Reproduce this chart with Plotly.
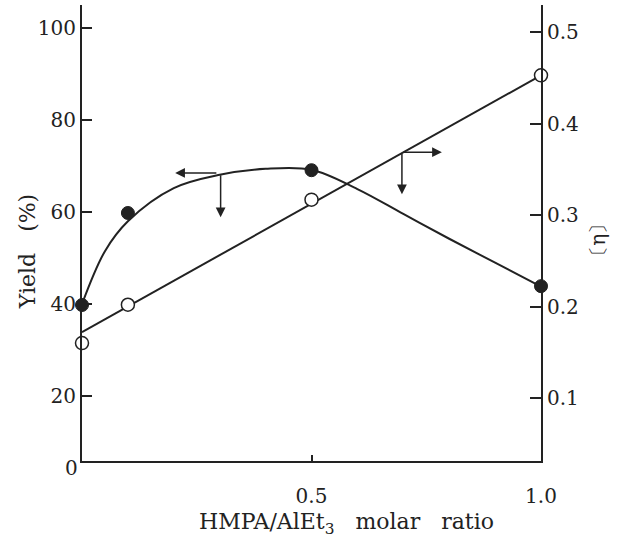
import plotly.graph_objects as go

# ---- data ----
ratio = [0.0, 0.1, 0.5, 1.0]
yield_pct = [39.8, 59.8, 69.1, 43.9]          # filled circles, left axis
eta = [0.160, 0.202, 0.317, 0.453]            # open circles, right axis

# smooth yield curve drawn through the points
curve_x = [0.0, 0.05, 0.1, 0.2, 0.3, 0.4, 0.5, 0.6, 0.7, 0.8, 0.9, 1.0]
curve_y = [40.0, 51.5, 58.0, 65.2, 68.1, 69.4, 69.2, 65.0, 59.6, 54.2, 49.0, 43.8]

# straight line for [eta]
eta_line_x = [0.0, 1.0]
eta_line_y = [0.172, 0.453]

yticks_left = [20, 40, 60, 80, 100]
yticks_right = [0.1, 0.2, 0.3, 0.4, 0.5]
xticks = [0.5, 1.0]
xtick_text = ["0.5", "1.0"]

FONT = "DejaVu Serif"
INK = "#222222"

fig = go.Figure()
fig.add_trace(go.Scatter(x=curve_x, y=curve_y, mode="lines",
                         line=dict(color=INK, width=2, shape="spline", smoothing=1.0),
                         hoverinfo="skip", cliponaxis=False))
fig.add_trace(go.Scatter(x=eta_line_x, y=eta_line_y, mode="lines", line=dict(color=INK, width=2),
                         yaxis="y2", hoverinfo="skip", cliponaxis=False))
fig.add_trace(go.Scatter(x=ratio, y=yield_pct, mode="markers",
                         marker=dict(size=13, color=INK, line=dict(color=INK, width=1)), cliponaxis=False))
fig.add_trace(go.Scatter(x=ratio, y=eta, mode="markers", yaxis="y2",
                         marker=dict(size=13, color="white", line=dict(color=INK, width=1.5)), cliponaxis=False))

axis_common = dict(showline=True, linecolor=INK, linewidth=2, ticks="inside", tickcolor=INK,
                   tickwidth=1.5, showgrid=False, zeroline=False,
                   tickfont=dict(family=FONT, size=20, color=INK))

fig.update_layout(
    width=628, height=542,
    margin=dict(l=82, r=87, t=5, b=81),
    paper_bgcolor="white", plot_bgcolor="white",
    showlegend=False,
    xaxis=dict(range=[0, 1.0], tickvals=xticks, ticktext=xtick_text, ticklen=6,
               ticklabelstandoff=16, **axis_common),
    yaxis=dict(range=[5.9, 105], tickvals=yticks_left, ticklen=10, ticklabelstandoff=0, **axis_common),
    yaxis2=dict(range=[0.031, 0.53], tickvals=yticks_right, ticklen=11, overlaying="y", side="right",
                anchor="x", ticklabelstandoff=0, **axis_common),
)

# arrows indicating which axis each curve belongs to
arrows = [
    # (head_x, head_y, tail_x, tail_y, y-axis)
    (0.203, 68.5, 0.296, 68.5, "y"),
    (0.302, 58.9, 0.302, 68.3, "y"),
    (0.784, 0.369, 0.697, 0.369, "y2"),
    (0.697, 0.323, 0.697, 0.369, "y2"),
]
for hx, hy, tx, ty, yr in arrows:
    fig.add_annotation(x=hx, y=hy, ax=tx, ay=ty, xref="x", yref=yr, axref="x", ayref=yr,
                       text="", showarrow=True, arrowhead=2, arrowsize=1.3, arrowwidth=1.5,
                       arrowcolor=INK)

fig.add_annotation(text="0", x=0, y=0, xref="x", yref="paper", xanchor="right", yanchor="middle",
                   xshift=-2, yshift=-7, showarrow=False, font=dict(family=FONT, size=20, color=INK))
fig.add_annotation(text="HMPA/AlEt<sub>3</sub>   molar   ratio", x=0.577, y=-0.136, xref="paper", yref="paper",
                   xanchor="center", yanchor="middle", showarrow=False,
                   font=dict(family=FONT, size=22, color=INK))
fig.add_annotation(text="Yield   (%)", x=-0.12, y=0.46, xref="paper", yref="paper", textangle=-90,
                   xanchor="center", yanchor="middle", showarrow=False,
                   font=dict(family=FONT, size=22, color=INK))
fig.add_annotation(text="〔η〕", x=1.124, y=0.485, xref="paper", yref="paper", textangle=-90,
                   xanchor="center", yanchor="middle", showarrow=False,
                   font=dict(family=FONT, size=20, color=INK))

fig.write_html("out.html", config={"displayModeBar": False},
               post_script="document.body.style.margin='0';")
